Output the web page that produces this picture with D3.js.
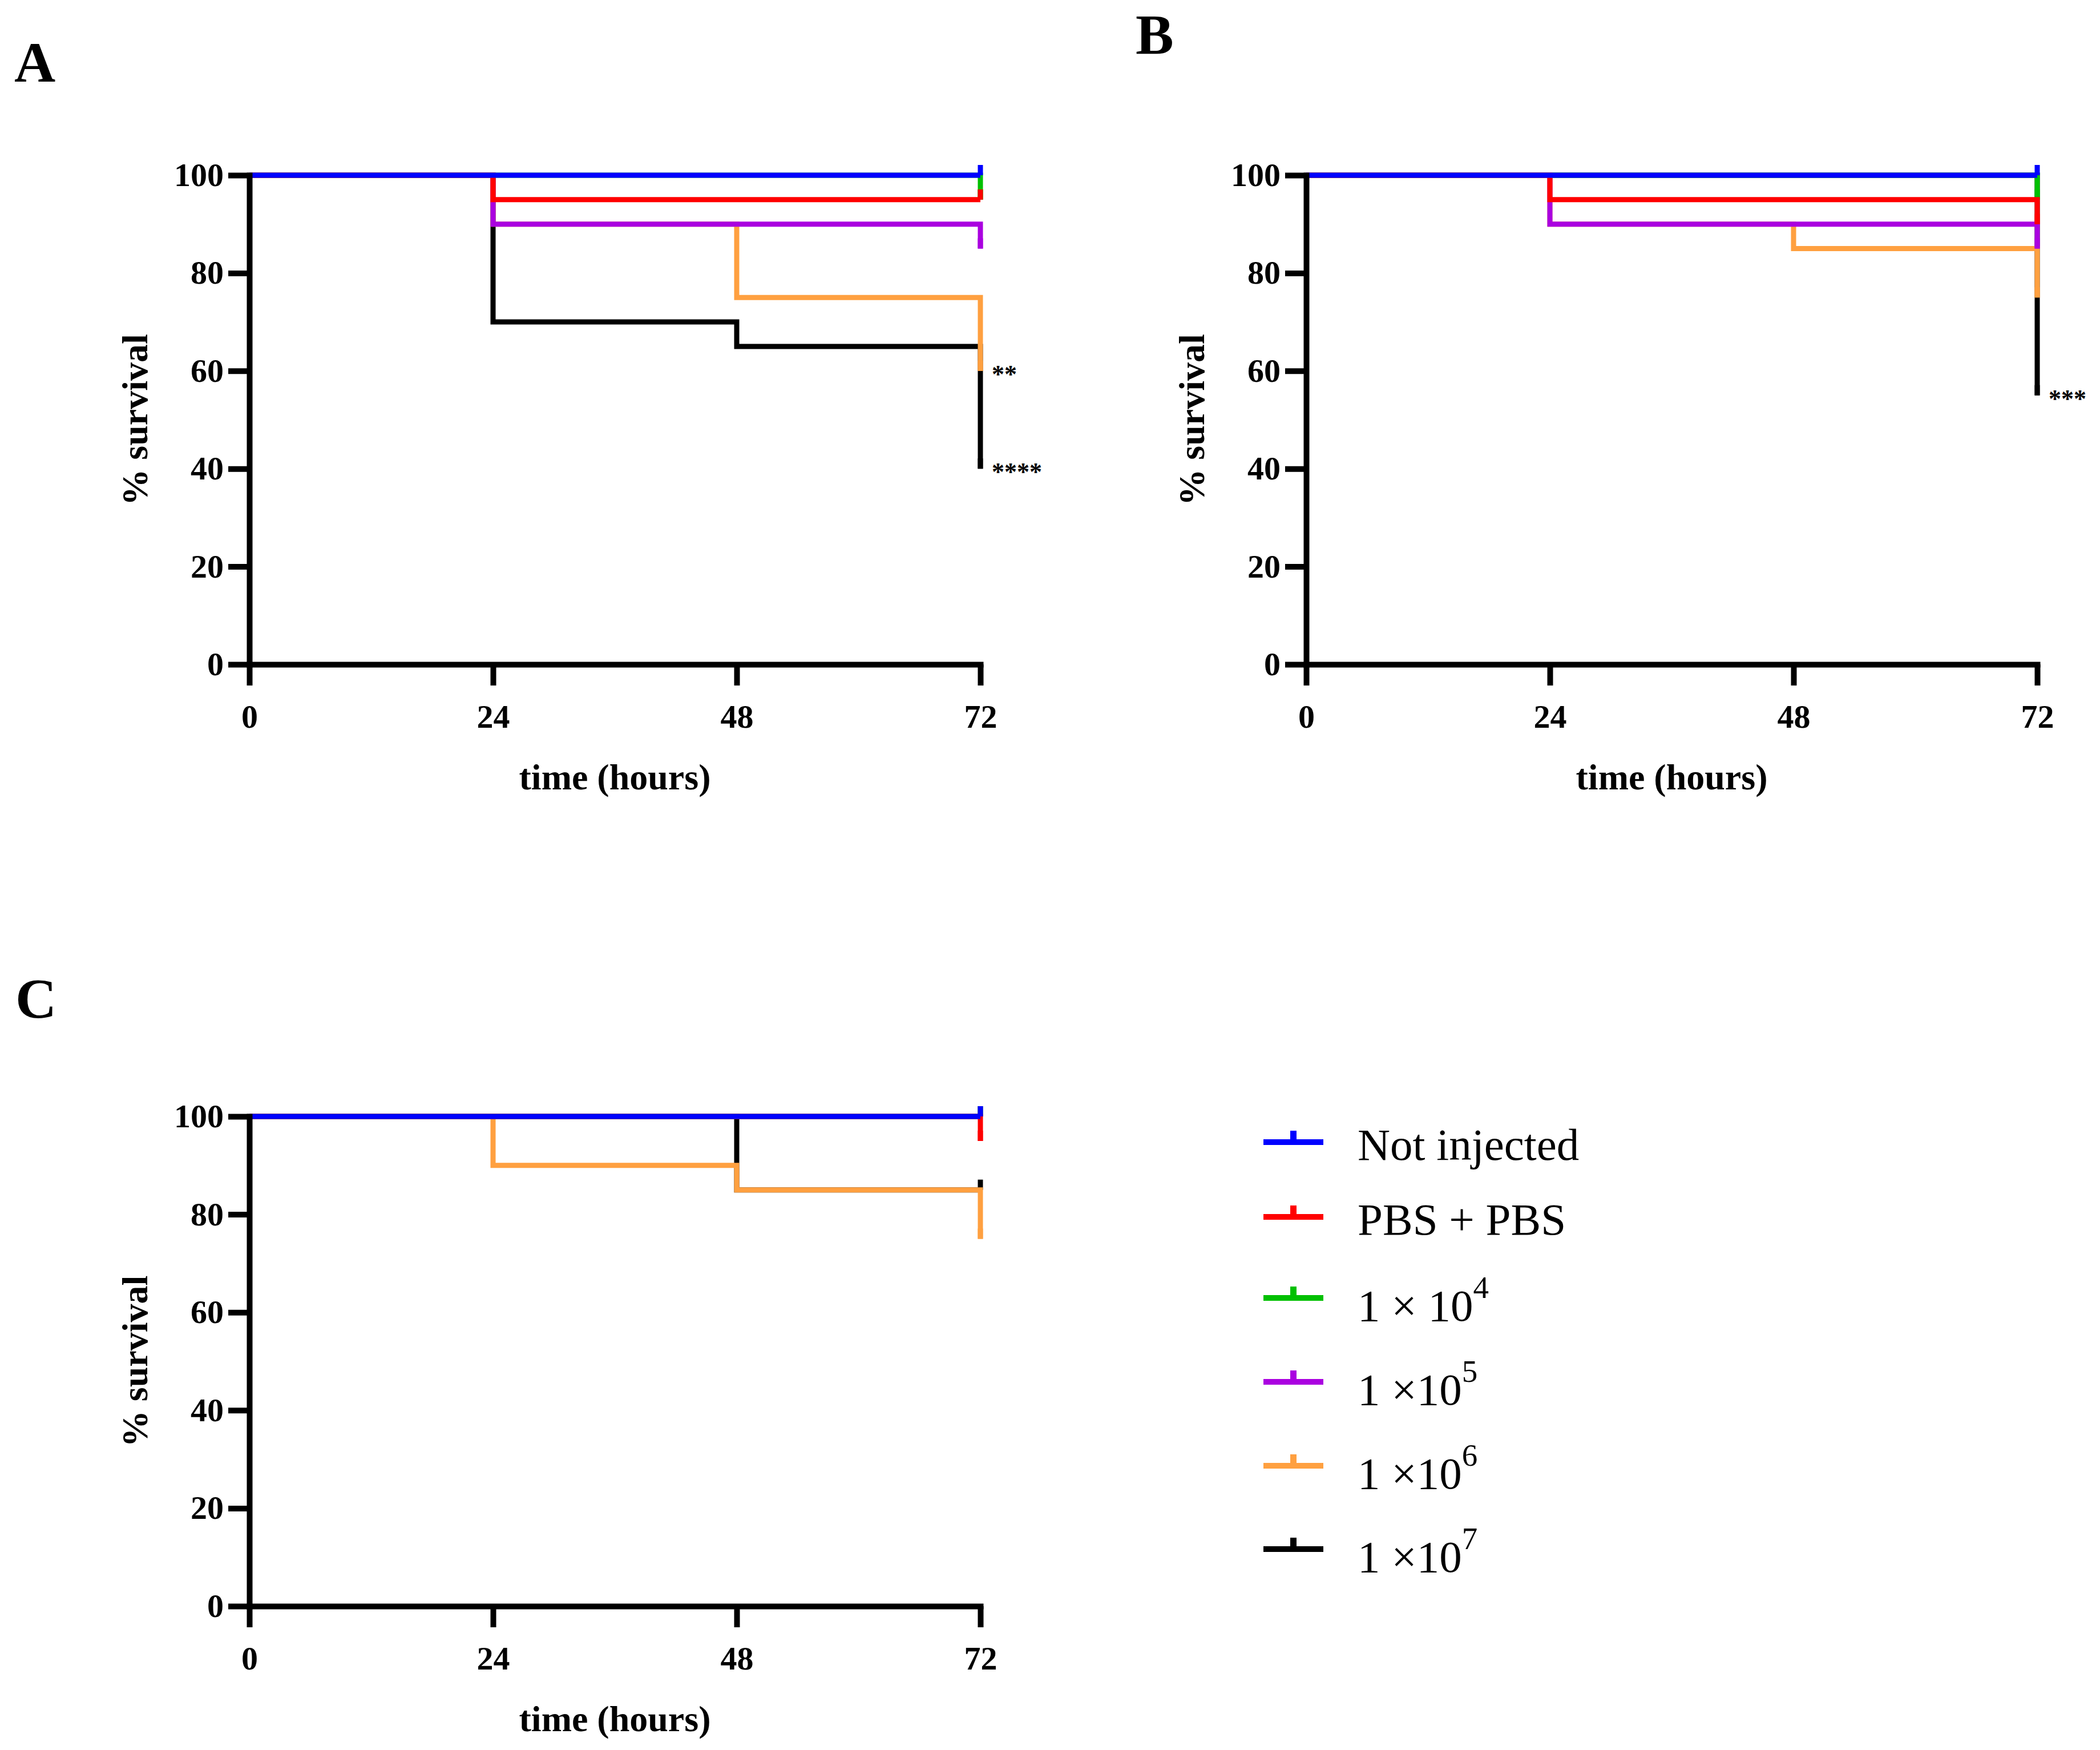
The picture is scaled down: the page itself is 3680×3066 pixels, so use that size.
<!DOCTYPE html>
<html><head><meta charset="utf-8">
<script src="https://cdn.jsdelivr.net/npm/d3@7"></script>
<style>html,body{margin:0;padding:0;background:#fff;} svg{display:block}</style>
</head><body>
<script>
// ---------- DATA ----------
const hours = [0, 24, 48, 72];
const yTickValues = [0, 20, 40, 60, 80, 100];
const xTickValues = [0, 24, 48, 72];
const seriesLabels = ["Not injected", "PBS + PBS", "1 \u00d7 10", "1 \u00d710", "1 \u00d710", "1 \u00d710"];
const seriesExponents = ["", "", "4", "5", "6", "7"];
const seriesColors = ["#0000ff", "#ff0000", "#00c000", "#aa00e0", "#ffa040", "#000000"];

// % survival at 0, 24, 48, 72 h (rows in legend order)
const survivalA = [
  [100, 100, 100, 100],
  [100, 95, 95, 95],
  [100, 100, 100, 95],
  [100, 90, 90, 85],
  [100, 90, 75, 60],
  [100, 70, 65, 40]
];
const survivalB = [
  [100, 100, 100, 100],
  [100, 95, 95, 90],
  [100, 100, 100, 95],
  [100, 90, 90, 85],
  [100, 90, 85, 75],
  [100, 100, 100, 55]
];
const survivalC = [
  [100, 100, 100, 100],
  [100, 100, 100, 95],
  [100, 100, 100, 100],
  [100, 100, 100, 100],
  [100, 90, 85, 75],
  [100, 100, 85, 85]
];
const signifLabelsA = ["**", "****"];
const signifValuesA = [60, 40];
const signifLabelsB = ["***"];
const signifValuesB = [55];

// ---------- LAYOUT ----------
const W = 3680, H = 3066;
const FONT = "'Liberation Serif', 'Times New Roman', serif";
const svg = d3.select("body").append("svg").attr("width", W).attr("height", H)
  .attr("viewBox", `0 0 ${W} ${H}`);
svg.append("rect").attr("width", W).attr("height", H).attr("fill", "#fff");

const panels = [
  {letter: "A", data: survivalA, sigL: signifLabelsA, sigV: signifValuesA, left: 437, right: 1718, top: 307, bottom: 1164, lx: 25, ly: 143},
  {letter: "B", data: survivalB, sigL: signifLabelsB, sigV: signifValuesB, left: 2289, right: 3570, top: 307, bottom: 1164, lx: 1990, ly: 94},
  {letter: "C", data: survivalC, sigL: [], sigV: [], left: 437, right: 1718, top: 1956, bottom: 2814, lx: 27, ly: 1783}
];

function drawPanel(p) {
  const g = svg.append("g");
  const x = d3.scaleLinear().domain([0, 72]).range([p.left, p.right]);
  const y = d3.scaleLinear().domain([0, 100]).range([p.bottom, p.top]);
  const line = d3.line().x(d => x(d[0])).y(d => y(d[1])).curve(d3.curveStepAfter);

  // curves: last series at the bottom, first on top
  for (let i = p.data.length - 1; i >= 0; i--) {
    const pts = hours.map((h, j) => [h, p.data[i][j]]);
    g.append("path").attr("d", line(pts))
      .attr("fill", "none").attr("stroke", seriesColors[i])
      .attr("stroke-width", 9).attr("stroke-linejoin", "miter").attr("stroke-linecap", "butt");
    const lastV = p.data[i][hours.length - 1];
    const lastT = hours[hours.length - 1];
    g.append("line")
      .attr("x1", x(lastT)).attr("x2", x(lastT))
      .attr("y1", y(lastV)).attr("y2", y(lastV) - 18)
      .attr("stroke", seriesColors[i]).attr("stroke-width", 9);
  }

  // axes
  const yAxis = d3.axisLeft(y).tickValues(yTickValues).tickSize(37).tickSizeOuter(0).tickPadding(8);
  const xAxis = d3.axisBottom(x).tickValues(xTickValues).tickSize(37).tickSizeOuter(0).tickPadding(8);
  const gy = g.append("g").attr("transform", `translate(${p.left},0)`).call(yAxis);
  const gx = g.append("g").attr("transform", `translate(0,${p.bottom})`).call(xAxis);
  [gx, gy].forEach(a => {
    a.select(".domain").attr("stroke", "#000").attr("stroke-width", 10).attr("stroke-linecap", "square");
    a.selectAll(".tick line").attr("stroke", "#000").attr("stroke-width", 10);
    a.selectAll(".tick text").attr("fill", "#000")
      .style("font-family", FONT).style("font-weight", "bold").style("font-size", "58px");
  });
  gx.selectAll(".tick text").attr("y", 111).attr("dy", null);

  // axis titles
  g.append("text")
    .attr("x", (p.left + p.right) / 2).attr("y", p.bottom + 219)
    .attr("text-anchor", "middle")
    .style("font-family", FONT).style("font-weight", "bold").style("font-size", "64px")
    .text("time (hours)");
  g.append("text")
    .attr("transform", `translate(${p.left - 179},${(p.top + p.bottom) / 2}) rotate(-90)`)
    .attr("text-anchor", "middle")
    .style("font-family", FONT).style("font-weight", "bold").style("font-size", "64px")
    .text("% survival");

  // significance marks
  p.sigL.forEach((lab, k) => {
    g.append("text")
      .attr("x", x(72) + 20).attr("y", y(p.sigV[k]) + 20)
      .style("font-family", FONT).style("font-size", "44px").style("font-weight", "bold")
      .text(lab);
  });

  // panel letter
  g.append("text").attr("x", p.lx).attr("y", p.ly)
    .style("font-family", FONT).style("font-weight", "bold").style("font-size", "100px")
    .text(p.letter);
}
panels.forEach(drawPanel);

// ---------- LEGEND ----------
const legendX0 = 2214, legendX1 = 2319, legendTextX = 2379;
const legendRowY = [2001, 2132, 2274, 2421, 2568, 2714];
const lg = svg.append("g");
seriesLabels.forEach((lab, i) => {
  const yy = legendRowY[i];
  lg.append("line").attr("x1", legendX0).attr("x2", legendX1).attr("y1", yy).attr("y2", yy)
    .attr("stroke", seriesColors[i]).attr("stroke-width", 10);
  const mid = (legendX0 + legendX1) / 2;
  lg.append("line").attr("x1", mid).attr("x2", mid).attr("y1", yy).attr("y2", yy - 20)
    .attr("stroke", seriesColors[i]).attr("stroke-width", 11);
  const t = lg.append("text").attr("x", legendTextX)
    .attr("y", yy + (seriesExponents[i] ? 40 : 31))
    .style("font-family", FONT).style("font-size", "79px").attr("fill", "#000");
  t.append("tspan").text(lab);
  if (seriesExponents[i]) {
    t.append("tspan").attr("dy", -40).style("font-size", "55px").text(seriesExponents[i]);
  }
});
</script>
</body></html>
